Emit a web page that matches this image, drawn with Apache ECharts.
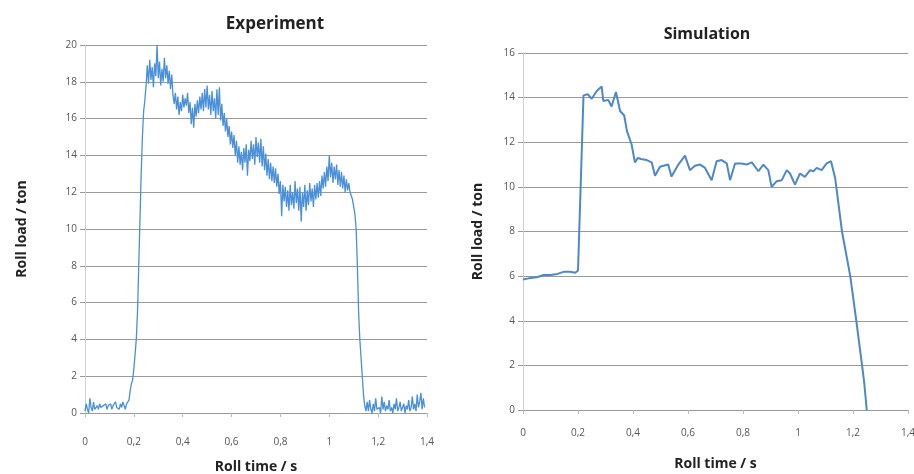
<!DOCTYPE html>
<html>
<head>
<meta charset="utf-8">
<script src="https://cdn.jsdelivr.net/npm/echarts@6/dist/echarts.min.js"></script>
<style>
html,body{margin:0;padding:0;background:#fff;}
#chart{width:914px;height:474px;}
</style>
</head>
<body>
<div id="chart"></div>
<script>
// Experiment: roll load (ton) sampled every 0.005 s starting at 0 s
const expStartTime = 0;
const expSampleStep = 0.005;
const expLoad = [
  0.1,0.5,0.2,0.0,0.8,0.3,0.1,0.6,0.2,0.3,
  0.4,0.2,0.5,0.3,0.2,0.4,0.3,0.5,0.2,0.4,
  0.3,0.5,0.2,0.4,0.3,0.6,0.3,0.4,0.2,0.5,
  0.3,0.6,0.4,0.2,0.5,0.6,0.7,1.2,1.6,1.8,
  2.4,3.2,4.0,5.5,8.0,10.5,13.0,15.0,16.4,17.0,
  17.8,18.9,17.9,19.2,18.1,18.8,17.7,19.0,18.3,20.0,
  18.2,19.1,17.8,18.7,18.0,19.3,18.2,18.9,17.9,18.6,
  17.6,18.4,17.3,16.8,17.4,16.5,17.2,16.2,16.9,16.4,
  17.3,16.6,17.1,16.7,17.4,16.3,16.9,15.7,16.6,15.5,
  16.8,16.1,17.0,16.3,17.2,16.5,17.4,16.4,17.6,16.6,
  17.8,16.5,17.3,16.2,17.5,16.4,17.1,16.0,17.6,16.2,
  17.7,15.9,16.8,15.6,16.3,15.3,16.0,15.0,15.6,14.6,
  15.3,14.4,15.1,14.0,14.8,13.6,14.5,13.5,14.2,13.2,
  14.4,13.6,14.6,12.9,14.3,13.7,14.8,13.8,14.6,13.5,
  15.0,13.9,14.7,13.6,14.9,13.4,14.5,13.2,14.1,12.9,
  13.8,12.7,13.6,12.6,13.4,12.5,13.3,12.3,13.0,11.9,
  12.6,10.7,12.4,11.5,12.3,11.2,12.1,11.0,12.4,11.3,
  12.0,11.1,12.6,11.4,12.2,11.0,12.3,10.4,12.0,11.2,
  12.4,11.0,12.1,11.3,12.5,11.5,12.2,11.2,12.4,11.6,
  12.5,11.7,12.6,11.8,12.9,12.2,13.1,12.3,13.4,12.6,
  14.0,12.8,13.6,12.5,13.4,12.7,13.5,12.4,13.2,12.3,
  13.1,12.2,12.9,12.0,12.7,12.1,12.5,12.0,11.9,11.6,
  11.2,10.8,10.0,8.0,5.5,4.0,3.0,2.0,1.0,0.4,
  0.1,0.6,0.1,0.7,0.2,0.0,0.5,0.1,0.8,0.2,
  0.1,0.3,0.0,0.9,0.2,0.6,0.1,0.4,0.2,0.7,
  0.1,0.3,0.0,0.5,0.2,0.8,0.1,0.3,0.6,0.1,
  0.2,0.5,0.0,0.4,0.2,0.7,0.1,0.3,0.9,0.2,
  0.5,0.1,1.0,0.3,0.6,1.1,0.2,0.8,0.3
];

// Simulation: time (s) and roll load (ton)
const simTime = [0,0.02,0.05,0.075,0.1,0.125,0.15,0.17,0.19,0.2,0.22,0.235,0.25,0.268,0.286,0.292,0.31,0.322,0.338,0.353,0.368,0.378,0.395,0.407,0.418,0.428,0.45,0.468,0.48,0.498,0.528,0.54,0.565,0.589,0.607,0.625,0.644,0.662,0.686,0.704,0.722,0.741,0.753,0.771,0.795,0.813,0.832,0.856,0.874,0.892,0.904,0.922,0.941,0.959,0.971,0.989,1.007,1.025,1.044,1.056,1.068,1.086,1.104,1.12,1.135,1.16,1.19,1.212,1.233,1.241,1.25];
const simLoad = [5.85,5.9,5.95,6.05,6.05,6.1,6.2,6.2,6.15,6.25,14.1,14.15,13.95,14.3,14.5,13.85,13.9,13.6,14.25,13.4,13.2,12.5,11.9,11.1,11.3,11.25,11.2,11.1,10.5,10.9,11.0,10.46,11.0,11.4,10.75,10.95,11.0,10.85,10.3,11.15,11.2,11.05,10.3,11.05,11.05,11.0,11.1,10.7,11.0,10.75,10.0,10.25,10.3,10.75,10.6,10.1,10.6,10.45,10.75,10.7,10.85,10.75,11.05,11.15,10.4,8.0,6.0,4.0,2.0,1.2,0];

// Axis ticks
const xTicks = [0,0.2,0.4,0.6,0.8,1,1.2,1.4];
const expYTicks = [0,2,4,6,8,10,12,14,16,18,20];
const simYTicks = [0,2,4,6,8,10,12,14,16];

const titles = ['Experiment','Simulation'];
const xName = 'Roll time / s';
const yName = 'Roll load / ton';

const expData = expLoad.map((v,i)=>[expStartTime + i*expSampleStep, v]);
const simData = simTime.map((t,i)=>[t, simLoad[i]]);

const FONT = '"Open Sans", "DejaVu Sans", sans-serif';
const gridColor = '#9a9a9a';
const labelColor = '#555';

function fmt(v){ return String(+v.toFixed(1)).replace('.', ','); }

function xAxis(gridIndex, gap, labelMargin){
  return {
    gridIndex, type:'value', min:xTicks[0], max:xTicks[xTicks.length-1], interval:0.2,
    name:xName, nameLocation:'middle', nameGap:gap,
    nameTextStyle:{fontFamily:FONT, fontWeight:'bold', fontSize:14, color:'#222'},
    axisLine:{show:true, lineStyle:{color:gridColor, width:1}},
    axisTick:{show:true, length:4, lineStyle:{color:'#bbb'}},
    axisLabel:{fontFamily:FONT, fontSize:10, color:labelColor, margin:labelMargin, formatter:fmt},
    splitLine:{show:false}
  };
}
function yAxis(gridIndex, ticks, gap){
  return {
    gridIndex, type:'value', min:ticks[0], max:ticks[ticks.length-1], interval:2,
    name:yName, nameLocation:'middle', nameGap:gap, nameRotate:90,
    nameTextStyle:{fontFamily:FONT, fontWeight:'bold', fontSize:14, color:'#222'},
    axisLine:{show:true, lineStyle:{color:'#cfcfcf', width:1}},
    axisTick:{show:true, length:5, lineStyle:{color:gridColor}},
    axisLabel:{fontFamily:FONT, fontSize:10, color:labelColor, margin:8},
    splitLine:{show:true, lineStyle:{color:gridColor, width:1}}
  };
}

const chart = echarts.init(document.getElementById('chart'), null, {renderer:'canvas'});
chart.setOption({
  animation:false,
  backgroundColor:'#fff',
  title:[
    {text:titles[0], left:270, top:11, textAlign:'center',
     textStyle:{fontFamily:FONT, fontWeight:'bold', fontSize:17, color:'#222'}},
    {text:titles[1], left:702, top:21, textAlign:'center',
     textStyle:{fontFamily:FONT, fontWeight:'bold', fontSize:16, color:'#222'}}
  ],
  grid:[
    {left:85, right:487, top:45, bottom:61, outerBoundsMode:'none', containLabel:false},
    {left:523, right:6, top:53, bottom:64, outerBoundsMode:'none', containLabel:false}
  ],
  xAxis:[xAxis(0, 47, 24), xAxis(1, 47, 18)],
  yAxis:[yAxis(0, expYTicks, 56), yAxis(1, simYTicks, 38)],
  series:[
    {type:'line', xAxisIndex:0, yAxisIndex:0, data:expData, showSymbol:false,
     lineStyle:{color:'#4a90d9', width:1.3}},
    {type:'line', xAxisIndex:1, yAxisIndex:1, data:simData, showSymbol:false,
     lineStyle:{color:'#4f88c8', width:2}}
  ]
});
</script>
</body>
</html>
